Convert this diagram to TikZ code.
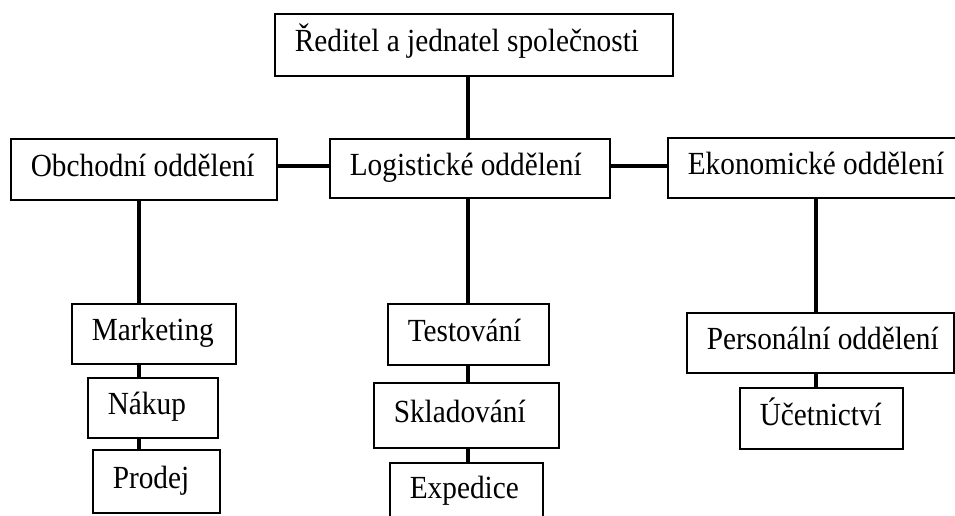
\documentclass[tikz,border=0pt]{standalone}
\usepackage{fontspec}
\setmainfont{Liberation Serif}
\tikzset{
  orgbox/.style={draw, line width=1.6pt, rectangle, anchor=north west,
    inner xsep=20pt, inner ysep=0pt,
    text height=20pt, text depth=6pt,
    font=\fontsize{29.3}{35}\selectfont},
  conn/.style={line width=3.5pt}
}
% \orgbox{name}{left}{top}{right}{bottom}{text}: text set flush left in the box,
% slightly tall type
\newcommand\orgbox[6]{%
  \pgfmathsetmacro\obw{#4-#2-40}%
  \pgfmathsetmacro\obh{#5-#3}%
  \node[orgbox, minimum height=\obh pt] (#1) at (#2,#3)
    {\makebox[\obw pt][l]{\scalebox{1}[1.1]{#6}}};%
}
\begin{document}
\begin{tikzpicture}[x=1pt,y=-1pt]
\useasboundingbox (0,0) rectangle (955,515);

% column and row axes for the connectors
\coordinate (colA) at (139,0);
\coordinate (colB) at (468,0);
\coordinate (colC) at (816,0);
\coordinate (rowH) at (0,166);

% top level
\orgbox{dir}{274}{13}{672}{75}{Ředitel a jednatel společnosti}

% departments
\orgbox{obch}{10}{138}{276}{199}{Obchodní oddělení}
\orgbox{log}{329}{138}{609}{197}{Logistické oddělení}
\orgbox{eko}{667}{137}{965}{197}{Ekonomické oddělení}

% sales
\orgbox{mkt}{71}{303}{235}{363}{Marketing}
\orgbox{nak}{87}{377}{217}{437}{Nákup}
\orgbox{pro}{92}{449}{219}{512}{Prodej}

% logistics
\orgbox{tes}{387}{303}{548}{364}{Testování}
\orgbox{skl}{373}{382}{558}{447}{Skladování}
\orgbox{exp}{389}{462}{542}{520}{Expedice}

% economics
\orgbox{per}{686}{312}{953}{372}{Personální oddělení}
\orgbox{uce}{739}{387}{902}{448}{Účetnictví}

% connectors
\draw[conn] (dir.south -| colB) -- (log.north -| colB);
\draw[conn] (obch.east |- rowH) -- (log.west |- rowH);
\draw[conn] (log.east |- rowH) -- (eko.west |- rowH);

\draw[conn] (obch.south -| colA) -- (mkt.north -| colA);
\draw[conn] (mkt.south -| colA) -- (nak.north -| colA);
\draw[conn] (nak.south -| colA) -- (pro.north -| colA);

\draw[conn] (log.south -| colB) -- (tes.north -| colB);
\draw[conn] (tes.south -| colB) -- (skl.north -| colB);
\draw[conn] (skl.south -| colB) -- (exp.north -| colB);

\draw[conn] (eko.south -| colC) -- (per.north -| colC);
\draw[conn] (per.south -| colC) -- (uce.north -| colC);
\end{tikzpicture}
\end{document}
